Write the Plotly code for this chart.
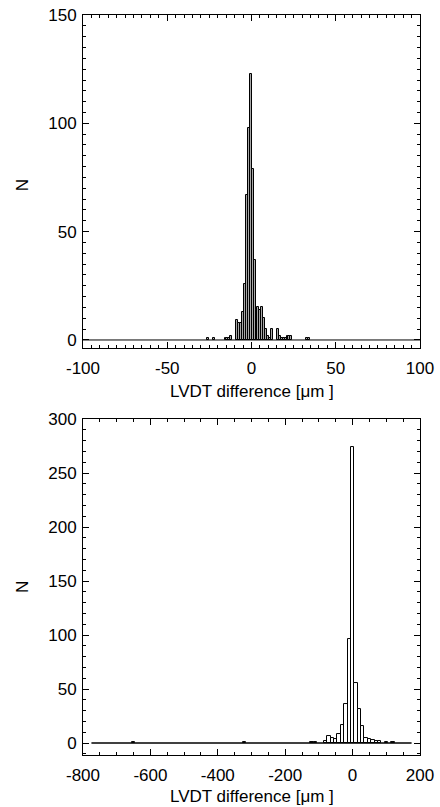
import plotly.graph_objects as go
from plotly.subplots import make_subplots

# top panel: fine binned histogram of LVDT differences (um)
top_centers = [-25.8, -22.35, -15.45, -14.3, -13.15, -12.0, -8.55, -7.4, -6.25, -5.1,
               -3.95, -2.8, -1.65, -0.5, 0.65, 1.8, 2.95, 4.1, 5.25, 6.4,
               7.55, 8.7, 9.85, 11.0, 12.15, 15.6, 16.75, 17.9, 19.05, 20.2,
               21.35, 22.5, 23.65, 32.85, 34.0]
top_counts = [1, 1, 1, 1, 1, 2, 9, 8, 8, 13,
              26, 67, 98, 123, 79, 37, 14, 15, 14, 15,
              10, 5, 2, 1, 5, 5, 2, 1, 1, 1,
              2, 2, 2, 1, 1]
top_binsize = 1.15
top_hist_range = [-100, 100]
top_xticks = [-100, -50, 0, 50, 100]
top_yticks = [0, 50, 100, 150]

# bottom panel: coarse binned histogram over full range
bot_centers = [-650, -320, -120, -110, -80, -70, -60, -50, -40, -30,
               -20, -10, 0, 10, 20, 30, 40, 50, 60, 70,
               80, 100, 120]
bot_counts = [1, 1, 1, 1, 2, 7, 5, 4, 8, 17,
              36, 96, 274, 56, 32, 16, 5, 4, 3, 2,
              2, 1, 1]
bot_binsize = 10
bot_hist_range = [-775, 175]
bot_xticks = [-800, -600, -400, -200, 0, 200]
bot_yticks = [0, 50, 100, 150, 200, 250, 300]

xtitle = "LVDT difference [\u03bcm ]"
FONT = "Liberation Sans, Arial, Helvetica, sans-serif"
FS = 17

fig = make_subplots(rows=2, cols=1, vertical_spacing=0.1)

fig.add_trace(go.Scatter(x=top_hist_range, y=[0, 0], mode="lines",
                         line=dict(color="black", width=1), showlegend=False), row=1, col=1)
fig.add_trace(go.Bar(x=top_centers, y=top_counts, width=top_binsize,
                     marker=dict(color="#a8a8a8", line=dict(color="black", width=1)),
                     showlegend=False), row=1, col=1)

fig.add_trace(go.Scatter(x=bot_hist_range, y=[0, 0], mode="lines",
                         line=dict(color="black", width=1.5), showlegend=False), row=2, col=1)
fig.add_trace(go.Bar(x=bot_centers, y=bot_counts, width=bot_binsize,
                     marker=dict(color="white", line=dict(color="black", width=1)),
                     showlegend=False), row=2, col=1)

axis_common = dict(showline=True, linecolor="black", linewidth=1, mirror="ticks",
                   ticks="inside", ticklen=6, tickcolor="black", tickwidth=1,
                   showgrid=False, zeroline=False, automargin=False,
                   tickfont=dict(family=FONT, size=FS, color="black"))

fig.update_xaxes(axis_common, ticklabelstandoff=5)
fig.update_yaxes(axis_common, ticklabelstandoff=2)

fig.update_xaxes(range=[-100, 100], tickvals=top_xticks, ticktext=[str(v) for v in top_xticks],
                 minor=dict(ticks="inside", ticklen=3, dtick=5, tickcolor="black"),
                 row=1, col=1)
fig.update_yaxes(range=[-3.7, 150], tickvals=top_yticks, ticktext=[str(v) for v in top_yticks],
                 minor=dict(ticks="inside", ticklen=3, dtick=5, tickcolor="black"),
                 row=1, col=1)
fig.update_xaxes(range=[-800, 200], tickvals=bot_xticks, ticktext=[str(v) for v in bot_xticks],
                 minor=dict(ticks="inside", ticklen=3, dtick=50, tickcolor="black"),
                 row=2, col=1)
fig.update_yaxes(range=[-11, 300], tickvals=bot_yticks, ticktext=[str(v) for v in bot_yticks],
                 minor=dict(ticks="inside", ticklen=3, dtick=10, tickcolor="black"),
                 row=2, col=1)

fig.update_layout(
    xaxis=dict(domain=[0, 1]), yaxis=dict(domain=[0.55, 1.0]),
    xaxis2=dict(domain=[0, 1]), yaxis2=dict(domain=[0.0, 0.454]),
)

annots = [
    dict(text="N", x=-0.181, y=0.770, textangle=-90),
    dict(text="N", x=-0.181, y=0.227, textangle=-90),
    dict(text=xtitle, x=0.5, y=0.491),
    dict(text=xtitle, x=0.5, y=-0.056),
]
for a in annots:
    fig.add_annotation(xref="paper", yref="paper", showarrow=False,
                       xanchor="center", yanchor="middle",
                       font=dict(family=FONT, size=FS, color="black"), **a)

fig.update_layout(template="none", width=440, height=807,
                  margin=dict(l=83, r=20, t=15, b=52, autoexpand=False),
                  plot_bgcolor="white", paper_bgcolor="white", bargap=0,
                  font=dict(family=FONT, size=FS, color="black"))

# drop the default 8px body margin so the figure fills the window exactly
fig.write_html("out.html", config={"displayModeBar": False},
               post_script="document.body.style.margin='0';")
